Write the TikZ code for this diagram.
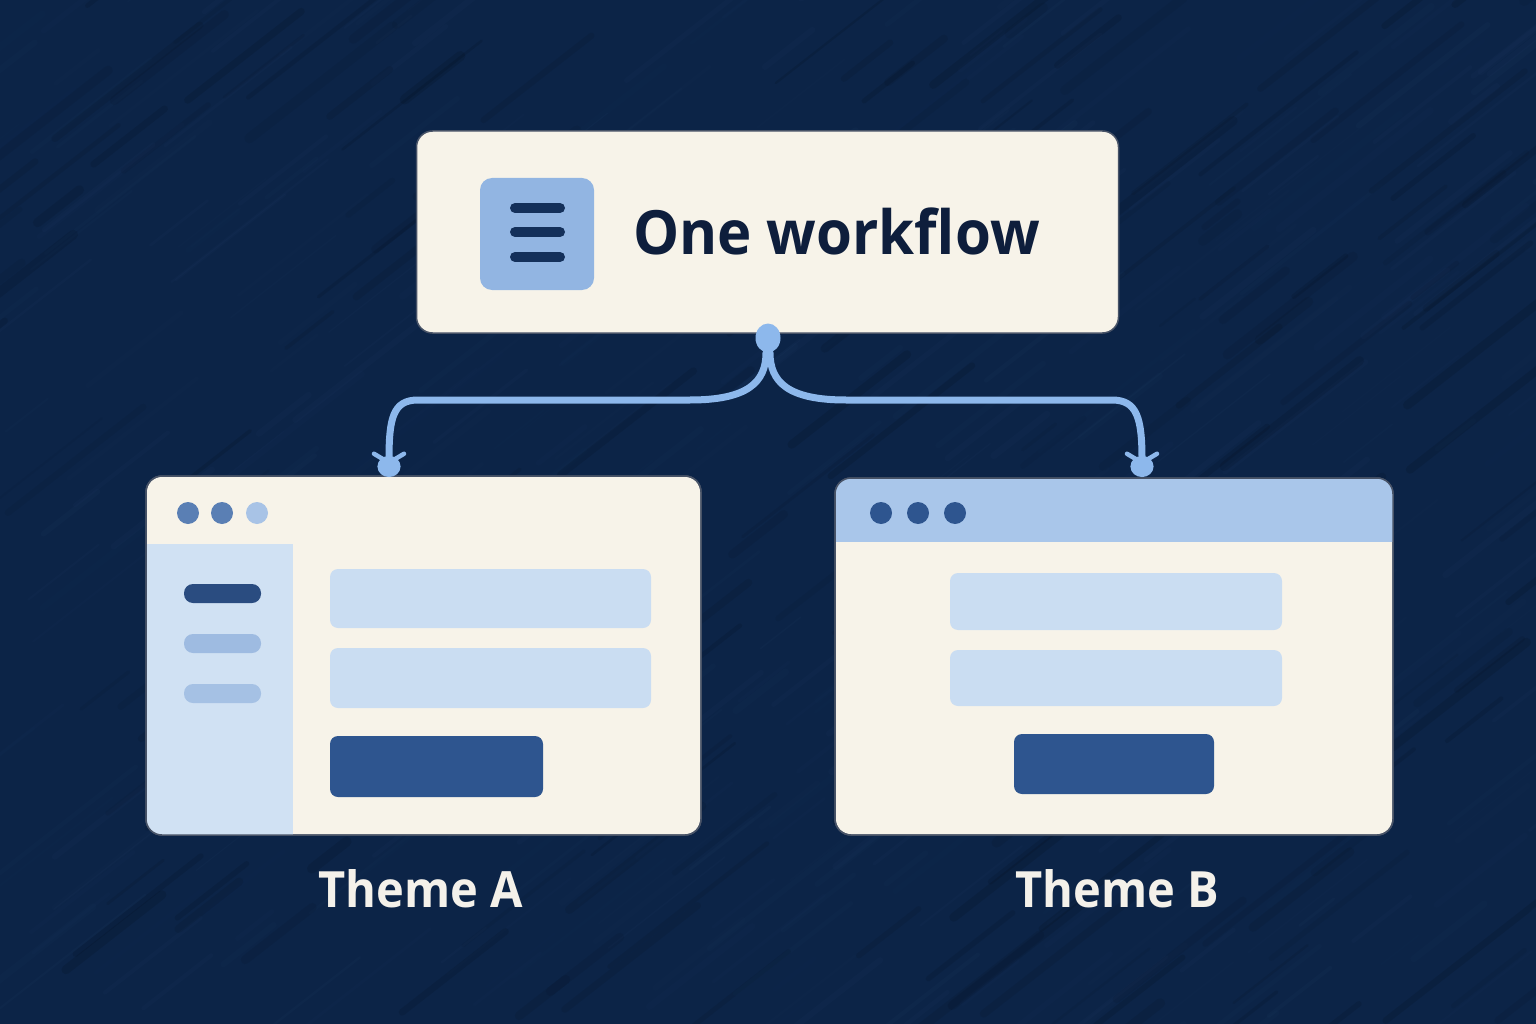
\documentclass[tikz,border=0pt]{standalone}
\usepackage{fontspec}
\usepackage{graphicx}
\setmainfont{Open Sans}
\usetikzlibrary{arrows.meta,shapes.geometric}
\definecolor{bg}{HTML}{0C2447}
\definecolor{bgstreak}{HTML}{3A5C8C}
\definecolor{cream}{HTML}{F7F3E9}
\definecolor{navy}{HTML}{0E1E3C}
\definecolor{iconblue}{HTML}{92B5E2}
\definecolor{iconline}{HTML}{14305A}
\definecolor{conncol}{HTML}{8DB8EC}
\definecolor{paleblue}{HTML}{CADDF2}
\definecolor{sidebar}{HTML}{D0E1F3}
\definecolor{header}{HTML}{A9C6EA}
\definecolor{darkbtn}{HTML}{2E558F}
\definecolor{dotmid}{HTML}{5A7FB4}
\definecolor{dotlight}{HTML}{A8C3E6}
\definecolor{baractive}{HTML}{2A4C80}
\definecolor{barsoft}{HTML}{9EBBE1}
\definecolor{labelcol}{HTML}{F4F1EA}
\tikzset{
  cardbox/.style={draw=navy!75!cream, line width=1.5pt, fill=cream, rounded corners=16pt, inner sep=0pt},
  conn/.style={draw=conncol, line width=7pt, line cap=round,
    -{Straight Barb[length=9pt,width=30pt,line width=4.5pt,round,sep=-9pt]Circle[length=21pt,width=23pt]}},
  pill/.style={rounded corners=8pt},
  lbl/.style={text=labelcol, font=\bfseries\fontsize{50}{60}\selectfont, anchor=base west, inner sep=0pt},
}
\begin{document}
\begin{tikzpicture}[x=1pt,y=-1pt]
\useasboundingbox (0,0) rectangle (1536,1024);
\fill[bg] (0,0) rectangle (1536,1024);
% background texture
\pgfmathsetseed{17}
\begin{scope}
\clip (0,0) rectangle (1536,1024);
\foreach \i in {1,...,420}{
  \pgfmathsetmacro\xx{rnd*1636-50}
  \pgfmathsetmacro\yy{rnd*1124-50}
  \pgfmathsetmacro\ll{40+rnd*160}
  \pgfmathsetmacro\ww{1+rnd*6}
  \pgfmathsetmacro\oo{0.015+rnd*0.04}
  \draw[bgstreak, opacity=\oo, line width=\ww pt, line cap=round] (\xx,\yy) -- ++(-38:\ll);
}
\foreach \i in {1,...,200}{
  \pgfmathsetmacro\xx{rnd*1636-50}
  \pgfmathsetmacro\yy{rnd*1124-50}
  \pgfmathsetmacro\ll{40+rnd*160}
  \pgfmathsetmacro\ww{2+rnd*8}
  \pgfmathsetmacro\oo{0.04+rnd*0.07}
  \draw[black, opacity=\oo, line width=\ww pt, line cap=round] (\xx,\yy) -- ++(-38:\ll);
}
\end{scope}

% top box
\node[cardbox, minimum width=702pt, minimum height=202pt] (top) at (767.5,232) {};
\fill[iconblue, rounded corners=12pt] (480,178) rectangle (594,290);
\foreach \yy in {208,232,257}{
  \draw[iconline, line width=10pt, line cap=round] (515,\yy) -- (560,\yy);
}
\node[text=navy, font=\bfseries\fontsize{61}{70}\selectfont, anchor=base west, inner sep=0pt] (title) at (633,255) {\scalebox{0.952}[1]{One workflow}};

% windows
\node[cardbox, minimum width=555pt, minimum height=359pt] (winA) at (423.5,655.5) {};
\node[cardbox, minimum width=558pt, minimum height=357pt] (winB) at (1114,656.5) {};

% window A content
\begin{scope}
\clip[rounded corners=16pt] (146,476) rectangle (701,835);
\fill[sidebar] (140,544) rectangle (293,840);
\end{scope}
\draw[navy!75!cream, line width=1.5pt, rounded corners=16pt] (146,476) rectangle (701,835);
\fill[dotmid] (188,513) circle (11);
\fill[dotmid] (222,513) circle (11);
\fill[dotlight] (257,513) circle (11);
\fill[baractive, rounded corners=9pt] (184,584) rectangle (261,603);
\fill[barsoft, rounded corners=9pt] (184,634) rectangle (261,653);
\fill[barsoft!85!sidebar, rounded corners=9pt] (184,684) rectangle (261,703);
\fill[paleblue, pill] (330,569) rectangle (651,628);
\fill[paleblue, pill] (330,648) rectangle (651,708);
\fill[darkbtn, pill] (330,736) rectangle (543,797);

% window B content
\begin{scope}
\clip[rounded corners=16pt] (835,478) rectangle (1393,835);
\fill[header] (830,470) rectangle (1400,542);
\end{scope}
\draw[navy!75!cream, line width=1.5pt, rounded corners=16pt] (835,478) rectangle (1393,835);
\fill[darkbtn] (881,513) circle (11);
\fill[darkbtn] (918,513) circle (11);
\fill[darkbtn] (955,513) circle (11);
\fill[paleblue, pill] (950,573) rectangle (1282,630);
\fill[paleblue, pill] (950,650) rectangle (1282,706);
\fill[darkbtn, pill] (1014,734) rectangle (1214,794);

% connectors
\node[ellipse, fill=conncol, minimum width=25pt, minimum height=29pt, inner sep=0pt] (dot) at (768,338) {};
\coordinate (tipA) at (389,477);
\coordinate (tipB) at (1142,477);
\draw[conn] ([xshift=-2pt]dot.south) .. controls (766,382) and (748,400) .. (690,400) -- (418,400) .. controls (393,400) and (389,418) .. (tipA);
\draw[conn] ([xshift=2pt]dot.south) .. controls (770,382) and (788,400) .. (846,400) -- (1112,400) .. controls (1137,400) and (1142,418) .. (tipB);

% labels
\node[lbl] (labA) at (318,907) {\scalebox{0.94}[1]{Theme A}};
\node[lbl] (labB) at (1015,907) {\scalebox{0.94}[1]{Theme B}};
\end{tikzpicture}
\end{document}
